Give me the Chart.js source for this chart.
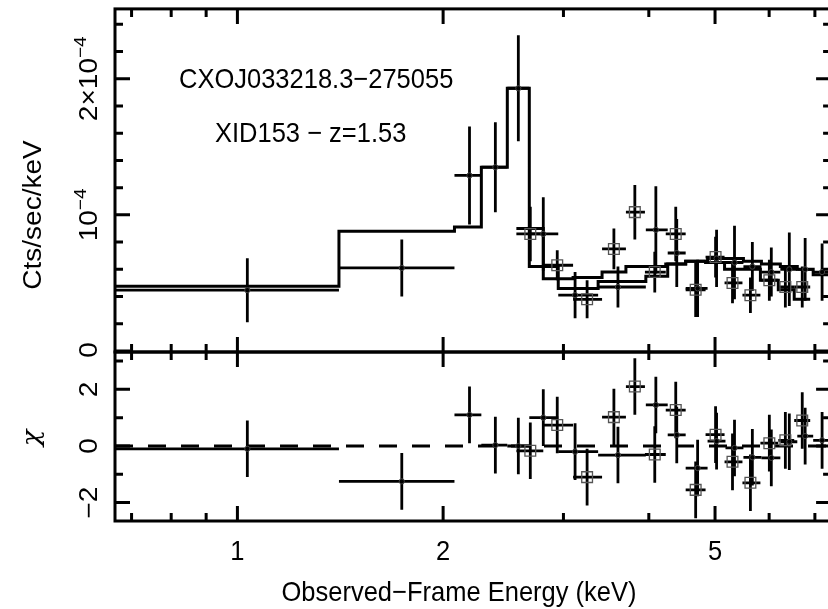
<!DOCTYPE html>
<html><head><meta charset="utf-8">
<script src="https://cdn.jsdelivr.net/npm/chart.js@4/dist/chart.umd.min.js"></script>
<style>
html,body{margin:0;padding:0;background:#fff;overflow:hidden;width:828px;height:609px;}
canvas{position:absolute;left:0;}
#top{top:0;}
#bot{top:340px;}
</style></head><body>
<canvas id="top" width="840" height="372" style="width:840px;height:372px"></canvas>
<canvas id="bot" width="840" height="269" style="width:840px;height:269px"></canvas>
<script>
// ---------------- DATA ----------------
// energies in keV; rates in units of 1e-4 cts/sec/keV; residuals in chi
const RATE_UNIT = 1e-4;
const xTickEnergies = [0.7, 0.8, 0.9, 1, 2, 3, 4, 5, 6, 7];
const xMajorEnergies = [1, 2, 5];
const xTickLabels = ['1', '2', '5'];
const rateMinorTicks = [0, 0.2, 0.4, 0.6, 0.8, 1, 1.2, 1.4, 1.6, 1.8, 2, 2.2, 2.4];
const rateMajorTicks = [0, 1, 2];
const rateTickLabels = [['0', ''], ['10', '−4'], ['2×10', '−4']];
const chiMinorTicks = [-2, -1, 0, 1, 2, 3];
const chiMajorTicks = [-2, 0, 2];
const chiTickLabels = ['−2', '0', '2'];

// series A (filled circles)
const edgesA  = [0.662, 1.408, 2.078, 2.275, 2.483, 2.674, 2.948, 3.372, 3.960, 4.263, 4.529, 4.876, 5.179, 5.502, 5.846, 6.231, 6.597, 6.960, 7.393];
const energyA = [1.034, 1.740, 2.186, 2.385, 2.577, 2.803, 3.120, 3.605, 4.096, 4.395, 4.715, 5.026, 5.339, 5.670, 6.044, 6.422, 6.774, 7.172];
const rateA   = [0.447, 0.61, 1.29, 1.35, 1.93, 0.86, 0.41, 0.47, 0.89, 0.72, 0.46, 0.68, 0.65, 0.62, 0.58, 0.60, 0.60, 0.58];
const errA    = [0.235, 0.21, 0.36, 0.33, 0.39, 0.27, 0.17, 0.15, 0.32, 0.25, 0.21, 0.21, 0.27, 0.18, 0.18, 0.27, 0.23, 0.21];
const modelA  = [0.476, 0.88, 0.91, 1.35, 1.93, 0.62, 0.46, 0.51, 0.55, 0.64, 0.66, 0.68, 0.68, 0.66, 0.64, 0.62, 0.60, 0.56];
const chiA    = [-0.1, -1.25, 1.1, 0.03, 0.0, 1.0, -0.2, -0.32, 1.45, 0.39, -0.78, 0.17, -0.07, -0.4, -0.42, 0.15, 0.35, 0.2];

// series B (open squares)
const edgesB  = [2.560, 2.803, 3.099, 3.417, 3.703, 3.948, 4.235, 4.529, 4.843, 5.163, 5.484, 5.826, 6.188, 6.529, 6.890];
const energyB = [2.683, 2.938, 3.249, 3.556, 3.816, 4.081, 4.380, 4.684, 5.009, 5.303, 5.633, 6.004, 6.337, 6.708];
const rateB   = [0.86, 0.63, 0.38, 0.75, 1.02, 0.58, 0.86, 0.45, 0.69, 0.50, 0.41, 0.52, 0.47, 0.47];
const errB    = [0.20, 0.11, 0.14, 0.15, 0.20, 0.15, 0.20, 0.20, 0.15, 0.15, 0.13, 0.15, 0.15, 0.15];
const modelB  = [0.90, 0.53, 0.54, 0.58, 0.62, 0.62, 0.64, 0.66, 0.65, 0.60, 0.60, 0.52, 0.45, 0.38];
const chiB    = [-0.17, 0.74, -1.1, 1.02, 2.1, -0.3, 1.27, -1.55, 0.4, -0.56, -1.3, 0.1, 0.2, 0.9];

const titleLine1 = 'CXOJ033218.3−275055';
const titleLine2 = 'XID153 − z=1.53';
const xTitle = 'Observed−Frame Energy (keV)';
const yTitleTop = 'Cts/sec/keV';
const yTitleBot = 'χ';

const X_MIN = 0.662, X_MAX = 7.393;

// ---------------- HELPERS ----------------
const FONT = '"Liberation Sans", Arial, Helvetica, sans-serif';
const FS = 25.5, SY = 1.1;

function pointsWithBars(edges, en, val, err, scale) {
  return en.map((e, i) => ({
    x: e, y: val[i] * scale,
    xl: edges[i], xh: edges[i + 1],
    yl: (val[i] - err[i]) * scale, yh: (val[i] + err[i]) * scale
  }));
}
function residWithBars(edges, en, chi) {
  return en.map((e, i) => ({ x: e, y: chi[i], xl: edges[i], xh: edges[i + 1], yl: chi[i] - 1, yh: chi[i] + 1 }));
}
function stepData(edges, model, scale) {
  return edges.map((e, i) => ({ x: e, y: model[Math.min(i, model.length - 1)] * scale }));
}

const errorBarPlugin = {
  id: 'errbars',
  beforeDatasetsDraw(chart) {
    const ctx = chart.ctx, xs = chart.scales.x, ys = chart.scales.y, a = chart.chartArea;
    ctx.save();
    ctx.beginPath(); ctx.rect(a.left, a.top, a.right - a.left, a.bottom - a.top); ctx.clip();
    chart.data.datasets.forEach(ds => {
      if (!ds.errorBars) return;
      ctx.strokeStyle = '#000'; ctx.lineWidth = 2.8; ctx.lineCap = 'butt';
      ds.data.forEach(p => {
        const px = xs.getPixelForValue(p.x), py = ys.getPixelForValue(p.y);
        ctx.beginPath();
        ctx.moveTo(xs.getPixelForValue(p.xl), py); ctx.lineTo(xs.getPixelForValue(p.xh), py);
        ctx.moveTo(px, ys.getPixelForValue(p.yl)); ctx.lineTo(px, ys.getPixelForValue(p.yh));
        ctx.stroke();
      });
    });
    ctx.restore();
  }
};

function drawText(ctx, s, x, y, size, align, rot, font) {
  ctx.save();
  ctx.translate(x, y);
  ctx.scale(1, SY);
  if (rot) ctx.rotate(rot);
  ctx.font = font || (size + 'px ' + FONT);
  ctx.fillStyle = '#000';
  ctx.textAlign = align; ctx.textBaseline = 'alphabetic';
  ctx.fillText(s, 0, 0);
  ctx.restore();
}
function drawSupLabel(ctx, base, sup, x, y) {
  // rotated -90deg, centered on y, baseline at x
  ctx.save();
  ctx.translate(x, y);
  ctx.scale(1, SY);
  ctx.rotate(-Math.PI / 2);
  ctx.fillStyle = '#000';
  ctx.font = FS + 'px ' + FONT;
  const w1 = ctx.measureText(base).width;
  ctx.font = (FS * 0.68) + 'px ' + FONT;
  const w2 = sup ? ctx.measureText(sup).width : 0;
  const start = -(w1 + w2) / 2;
  ctx.textAlign = 'left'; ctx.textBaseline = 'alphabetic';
  ctx.font = FS + 'px ' + FONT;
  ctx.fillText(base, start, 0);
  if (sup) { ctx.font = (FS * 0.68) + 'px ' + FONT; ctx.fillText(sup, start + w1, -FS * 0.42); }
  ctx.restore();
}

function frameAndTicks(chart, yMinor, yMajor) {
  const ctx = chart.ctx, xs = chart.scales.x, ys = chart.scales.y, a = chart.chartArea;
  ctx.save();
  ctx.strokeStyle = '#000'; ctx.lineWidth = 3; ctx.lineCap = 'butt';
  ctx.strokeRect(a.left, a.top, a.right - a.left, a.bottom - a.top);
  ctx.beginPath();
  xTickEnergies.forEach(e => {
    const L = xMajorEnergies.includes(e) ? 15 : 8;
    const px = xs.getPixelForValue(e);
    ctx.moveTo(px, a.top); ctx.lineTo(px, a.top + L);
    ctx.moveTo(px, a.bottom); ctx.lineTo(px, a.bottom - L);
  });
  yMinor.forEach(v => {
    const L = yMajor.includes(v) ? 15 : 8;
    const py = ys.getPixelForValue(v);
    ctx.moveTo(a.left, py); ctx.lineTo(a.left + L, py);
    ctx.moveTo(a.right, py); ctx.lineTo(a.right - L, py);
  });
  ctx.stroke();
  ctx.restore();
}

const topDecor = {
  id: 'topDecor',
  afterDraw(chart) {
    const ctx = chart.ctx, ys = chart.scales.y;
    frameAndTicks(chart, rateMinorTicks.map(v => v * RATE_UNIT), rateMajorTicks.map(v => v * RATE_UNIT));
    rateMajorTicks.forEach((v, i) => {
      const py = ys.getPixelForValue(v * RATE_UNIT);
      drawSupLabel(ctx, rateTickLabels[i][0], rateTickLabels[i][1], 97, Math.min(py, 350));
    });
    drawText(ctx, yTitleTop, 41, 215, FS, 'center', -Math.PI / 2);
    drawText(ctx, titleLine1, 179, 88, FS, 'left', 0);
    drawText(ctx, titleLine2, 215, 142, FS, 'left', 0);
  }
};
const botDecor = {
  id: 'botDecor',
  afterDraw(chart) {
    const ctx = chart.ctx, xs = chart.scales.x, ys = chart.scales.y;
    frameAndTicks(chart, chiMinorTicks, chiMajorTicks);
    chiMajorTicks.forEach((v, i) => {
      const py = ys.getPixelForValue(v);
      drawSupLabel(ctx, chiTickLabels[i], '', 97, py);
    });
    drawText(ctx, yTitleBot, 39, 438 - 340, FS, 'center', -Math.PI / 2, 'italic 25px "DejaVu Serif", serif');
    xMajorEnergies.forEach((e, i) => {
      drawText(ctx, xTickLabels[i], xs.getPixelForValue(e), 560 - 340, FS, 'center', 0);
    });
    drawText(ctx, xTitle, 459, 601 - 340, FS, 'center', 0);
  }
};

const commonScales = (ymin, ymax) => ({
  x: { type: 'logarithmic', min: X_MIN, max: X_MAX, display: false },
  y: { type: 'linear', min: ymin, max: ymax, display: false }
});
const commonOpts = (pad, ymin, ymax) => ({
  responsive: false, animation: false, events: [],
  layout: { padding: pad },
  plugins: { legend: { display: false }, tooltip: { enabled: false }, title: { display: false } },
  scales: commonScales(ymin, ymax)
});

const markerA = { pointStyle: 'circle', pointRadius: 2.6, pointBackgroundColor: '#000', pointBorderColor: '#444', pointBorderWidth: 1 };
const markerB = { pointStyle: 'rect', pointRadius: 7.6, pointBackgroundColor: 'rgba(0,0,0,0)', pointBorderColor: '#555', pointBorderWidth: 1.3 };

new Chart(document.getElementById('top'), {
  type: 'scatter',
  data: { datasets: [
    Object.assign({ label: 'A', data: pointsWithBars(edgesA, energyA, rateA, errA, RATE_UNIT), errorBars: true, showLine: false }, markerA),
    Object.assign({ label: 'B', data: pointsWithBars(edgesB, energyB, rateB, errB, RATE_UNIT), errorBars: true, showLine: false }, markerB),
    { label: 'model A', data: stepData(edgesA, modelA, RATE_UNIT), showLine: true, stepped: 'before', borderColor: '#000', borderWidth: 3, pointRadius: 0, fill: false },
    { label: 'model B', data: stepData(edgesB, modelB, RATE_UNIT), showLine: true, stepped: 'before', borderColor: '#000', borderWidth: 3, pointRadius: 0, fill: false }
  ]},
  options: commonOpts({ left: 115, top: 8, right: 6, bottom: 20 }, -0.0073e-4, 2.513e-4),
  plugins: [errorBarPlugin, topDecor]
});

new Chart(document.getElementById('bot'), {
  type: 'scatter',
  data: { datasets: [
    Object.assign({ label: 'A', data: residWithBars(edgesA, energyA, chiA), errorBars: true, showLine: false }, markerA),
    Object.assign({ label: 'B', data: residWithBars(edgesB, energyB, chiB), errorBars: true, showLine: false }, markerB),
    { label: 'zero', data: [{ x: X_MIN, y: 0 }, { x: X_MAX, y: 0 }], showLine: true, borderColor: '#000', borderWidth: 3, borderDash: [18, 15], pointRadius: 0, fill: false }
  ]},
  options: commonOpts({ left: 115, top: 12, right: 6, bottom: 88 }, -2.65, 3.32),
  plugins: [errorBarPlugin, botDecor]
});
</script>
</body></html>
